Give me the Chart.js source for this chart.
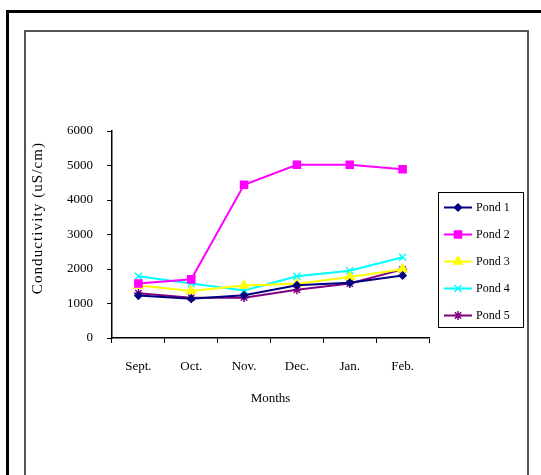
<!DOCTYPE html>
<html>
<head>
<meta charset="utf-8">
<script src="https://cdn.jsdelivr.net/npm/chart.js@4/dist/chart.umd.min.js"></script>
<style>
	html, body { margin: 0; padding: 0; background: #fff; overflow: hidden; }
	#outer { position: absolute; left: 6px; top: 10px; width: 600px; height: 600px; border-left: 3px solid #000; border-top: 3px solid #000; }
	#inner { position: absolute; left: 24px; top: 30px; width: 501px; height: 600px; border: 2px solid #555; }
	#wrap { position: absolute; left: 0; top: 0; width: 541px; height: 475px; }
</style>
</head>
<body>
<div id="outer"></div>
<div id="inner"></div>
<div id="wrap"><canvas id="mycanvas" width="541" height="475"></canvas></div>
<script>
var months = ['Sept.', 'Oct.', 'Nov.', 'Dec.', 'Jan.', 'Feb.'];
var pond1 = [1230, 1140, 1240, 1530, 1600, 1810];
var pond2 = [1580, 1700, 4440, 5020, 5020, 4890];
var pond3 = [1520, 1360, 1520, 1570, 1770, 1990];
var pond4 = [1790, 1580, 1380, 1790, 1950, 2340];
var pond5 = [1300, 1170, 1170, 1400, 1580, 1990];
var yTicks = [0, 1000, 2000, 3000, 4000, 5000, 6000];

var serif = '"Liberation Serif", "Times New Roman", serif';

function series(label, data, color, style, radius) {
	return {
		label: label,
		data: data,
		borderColor: color,
		backgroundColor: color,
		pointBackgroundColor: color,
		pointBorderColor: color,
		pointStyle: style,
		pointRadius: radius,
		pointBorderWidth: 1.5,
		borderWidth: 2,
		tension: 0
	};
}

// legend box and y title drawn by hand
var extras = {
	id: 'extras',
	afterDraw: function(chart) {
		var ctx = chart.ctx;
		ctx.save();
		ctx.strokeStyle = '#000';
		ctx.lineWidth = 1;
		ctx.strokeRect(438.5, 192.5, 85, 135);
		chart.data.datasets.forEach(function(ds, i) {
			var y = 207.5 + i * 27;
			ctx.strokeStyle = ds.borderColor;
			ctx.fillStyle = ds.borderColor;
			ctx.lineWidth = 2;
			ctx.beginPath();
			ctx.moveTo(444, y);
			ctx.lineTo(472, y);
			ctx.stroke();
			ctx.lineWidth = 1.5;
			Chart.helpers.drawPoint(ctx, {pointStyle: ds.pointStyle, radius: ds.pointRadius, borderWidth: 1.5, rotation: 0}, 458, y);
			ctx.fillStyle = '#000';
			ctx.font = '12px ' + serif;
			ctx.textAlign = 'left';
			ctx.textBaseline = 'middle';
			ctx.fillText(ds.label, 476, y);
		});

		ctx.translate(38, 218);
		ctx.rotate(-Math.PI / 2);
		ctx.fillStyle = '#000';
		ctx.font = '15px ' + serif;
		ctx.letterSpacing = '1.1px';
		ctx.textAlign = 'center';
		ctx.textBaseline = 'middle';
		ctx.fillText('Conductivity (uS/cm)', 0, 0);
		ctx.restore();
	}
};

var chartdata = {
	labels: months,
	datasets: [
		series('Pond 1', pond1, '#000080', 'rectRot', 3.5),
		series('Pond 2', pond2, '#FF00FF', 'rect', 5),
		series('Pond 3', pond3, '#FFFF00', 'triangle', 5),
		series('Pond 4', pond4, '#00FFFF', 'crossRot', 5),
		series('Pond 5', pond5, '#800080', 'star', 4.5)
	]
};

var ctx = document.getElementById('mycanvas');

var lineGraph = new Chart(ctx, {
	type: 'line',
	data: chartdata,
	plugins: [extras],
	options: {
		responsive: false,
		animation: false,
		layout: { padding: { left: 52, top: 131, right: 112, bottom: 57 } },
		plugins: {
			legend: { display: false },
			tooltip: { enabled: false }
		},
		scales: {
			x: {
				offset: true,
				afterFit: function(scale) { scale.height = 80; },
				border: { color: '#000', width: 1.5 },
				grid: { display: true, drawOnChartArea: false, offset: true, tickLength: 5, color: '#000', lineWidth: 1 },
				ticks: { color: '#000', font: { family: serif, size: 13 }, padding: 16, maxRotation: 0 },
				title: { display: true, text: 'Months', color: '#000', font: { family: serif, size: 13 }, padding: { top: 0, bottom: 12 } }
			},
			y: {
				min: 0,
				max: 6000,
				afterFit: function(scale) { scale.width = 60; },
				afterBuildTicks: function(scale) {
					scale.ticks = yTicks.map(function(v) { return { value: v }; });
				},
				border: { color: '#000', width: 1.5 },
				grid: { display: true, drawOnChartArea: false, tickLength: 5, color: '#000', lineWidth: 1 },
				ticks: {
					color: '#000',
					font: { family: serif, size: 13 },
					padding: 14,
					callback: function(value) { return String(value); }
				}
			}
		}
	}
});
</script>
</body>
</html>
